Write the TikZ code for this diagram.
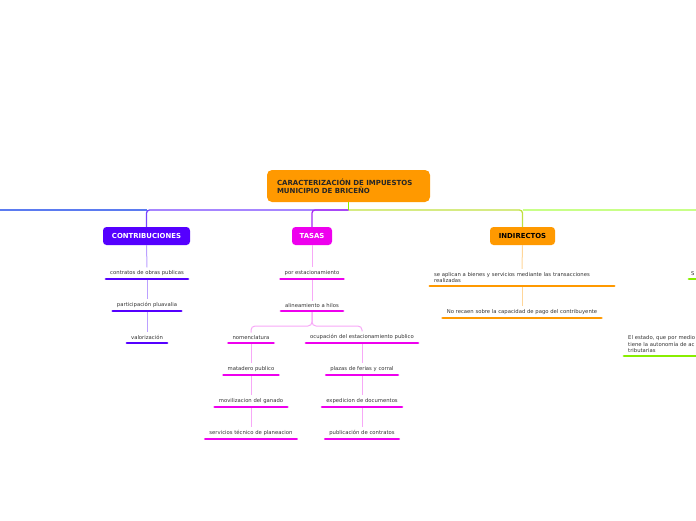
\documentclass[tikz,border=0pt]{standalone}
\usepackage{fontspec}
\setmainfont{DejaVu Sans}
\definecolor{cPurple}{HTML}{5500FF}
\definecolor{cMag}{HTML}{EE00EE}
\definecolor{cOrange}{HTML}{FF9900}
\definecolor{lPurple}{HTML}{BBA0FF}
\definecolor{lMag}{HTML}{F7A8F7}
\definecolor{lOrange}{HTML}{FFD699}
\definecolor{cGreen}{HTML}{88EE00}
\definecolor{lineLeft}{HTML}{5B7BF0}
\definecolor{lineP}{HTML}{7744FF}
\definecolor{lineT}{HTML}{A828F4}
\definecolor{lineY}{HTML}{C0E040}
\definecolor{lineG}{HTML}{C8FF88}
\definecolor{textgray}{HTML}{333333}
\tikzset{
  root/.style={rectangle, rounded corners=5pt, fill=cOrange, minimum width=163pt, minimum height=32pt,
    text width=143pt, align=left, inner xsep=10pt, font=\fontsize{7}{8.2}\selectfont\bfseries, text=black!85},
  head/.style={rectangle, rounded corners=3.5pt, minimum height=18pt, inner sep=0pt,
    font=\fontsize{6.9}{8}\selectfont\bfseries},
  leaf/.style={font=\fontsize{5.3}{6.6}\selectfont, text=textgray, inner xsep=5pt, inner ysep=3pt, anchor=south},
  main/.style={line width=1.3pt},
  conn/.style={line width=1pt},
  ul/.style={line width=2.8pt, line cap=round, shorten <=1pt, shorten >=1pt},
}
\begin{document}
\begin{tikzpicture}[x=1pt,y=-1pt]
\useasboundingbox (0,0) rectangle (696,520);
\clip (0,0) rectangle (696,520);

% main nodes
\node[root] (root) at (348.5,186) {CARACTERIZACIÓN DE IMPUESTOS\\MUNICIPIO DE BRICEÑO};
\node[head, fill=cPurple, text=white, minimum width=87pt] (contrib) at (146.5,236) {CONTRIBUCIONES};
\node[head, fill=cMag, text=white, minimum width=40pt] (tasas) at (312,236) {TASAS};
\node[head, fill=cOrange, text=black, minimum width=65pt] (indir) at (522.5,236) {INDIRECTOS};

\coordinate (hub) at (348.5,210);
\coordinate (cbr) at (146.5,210);
\coordinate (ibr) at (522.5,210);
\coordinate (lend) at (-3,210);
\coordinate (rend) at (700,210);

\draw[main, lineLeft] (cbr) -- (lend);
\draw[main, lineP, rounded corners=3pt] (hub) -| (contrib.north);
\draw[main, lineT, rounded corners=3pt] (hub) -| (tasas.north);
\draw[main, lineG] (ibr) -- (rend);
\draw[main, lineY, rounded corners=3pt] (hub) -| (indir.north);
\draw[main, cGreen] (root.south) -- (hub);

% contribuciones leaves
\node[leaf] (c1) at (147,279) {contratos de obras publicas};
\node[leaf] (c2) at (147,311) {participación pluavalia};
\node[leaf] (c3) at (147,343) {valorización};
\draw[conn, lPurple] (contrib.south) -- (c1.north);
\draw[conn, lPurple] (c1.south) -- (c2.north);
\draw[conn, lPurple] (c2.south) -- (c3.north);
\foreach \n in {c1,c2,c3} \draw[ul, cPurple] (\n.south west) -- (\n.south east);

% tasas leaves
\node[leaf] (t1) at (312,279) {por estacionamiento};
\node[leaf] (t2) at (312,311) {alineamiento a hilos};
\node[leaf] (t3) at (251,343) {nomenclatura};
\node[leaf] (t4) at (362,343) {ocupación del estacionamiento publico};
\node[leaf] (t5) at (251,375) {matadero publico};
\node[leaf] (t6) at (251,407) {movilizacion del ganado};
\node[leaf] (t7) at (251,439) {servicios técnico de planeacion};
\node[leaf] (t8) at (362,375) {plazas de ferias y corral};
\node[leaf] (t9) at (362,407) {expedicion de documentos};
\node[leaf] (t10) at (362,439) {publicación de contratos};
\draw[conn, lMag] (tasas.south) -- (t1.north);
\draw[conn, lMag] (t1.south) -- (t2.north);
\draw[conn, lMag, rounded corners=4pt] (t2.south) -- ++(0,15) -| (t3.north);
\draw[conn, lMag, rounded corners=4pt] (t2.south) -- ++(0,15) -| (t4.north);
\draw[conn, lMag] (t3.south) -- (t5.north);
\draw[conn, lMag] (t5.south) -- (t6.north);
\draw[conn, lMag] (t6.south) -- (t7.north);
\draw[conn, lMag] (t4.south) -- (t8.north);
\draw[conn, lMag] (t8.south) -- (t9.north);
\draw[conn, lMag] (t9.south) -- (t10.north);
\foreach \n in {t1,t2,t3,t4,t5,t6,t7,t8,t9,t10} \draw[ul, cMag] (\n.south west) -- (\n.south east);

% indirectos leaves
\node[leaf, text width=176pt, align=left] (i1) at (522,286) {se aplican a bienes y servicios mediante las transacciones\\realizadas};
\node[leaf] (i2) at (522,318) {No recaen sobre la capacidad de pago del contribuyente};
\draw[conn, lOrange] (indir.south) -- (i1.north);
\draw[conn, lOrange] (i1.south) -- (i2.north);
\foreach \n in {i1,i2} \draw[ul, cOrange] (\n.south west) -- (\n.south east);

% partially visible right-hand items
\node[leaf, anchor=south west, inner xsep=3pt, text width=20pt, align=left] (r1) at (688,279) {S};
\node[leaf, anchor=south west, text width=120pt, align=left] (r2) at (623,356) {El estado, que por medio\\tiene la autonomía de ac\\tributarias};
\foreach \n in {r1,r2} \draw[ul, cGreen] (\n.south west) -- (\n.south east);
\end{tikzpicture}
\end{document}
